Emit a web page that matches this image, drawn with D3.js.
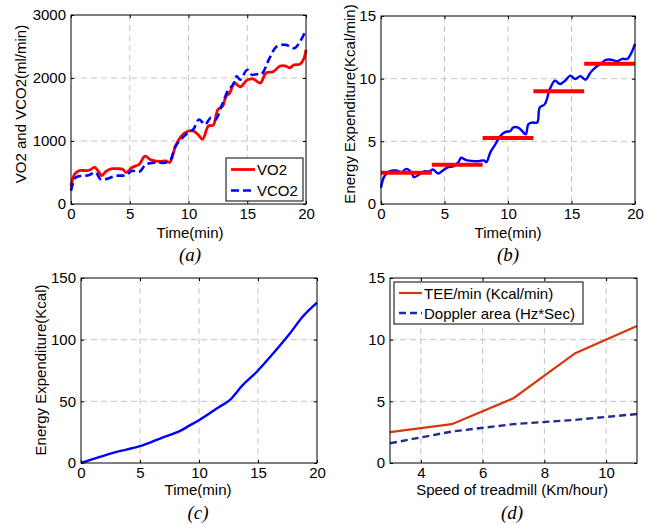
<!DOCTYPE html>
<html><head><meta charset="utf-8">
<script src="https://cdn.jsdelivr.net/npm/d3@7"></script>
<style>
body{margin:0;background:#fff}
svg{display:block}
text{font-family:"Liberation Sans",Arial,Helvetica,sans-serif;fill:#000}
.cap{font-family:"Liberation Serif","Times New Roman",serif;font-style:italic}
</style>
</head><body>
<svg id="fig" width="656" height="525"></svg>
<script>
// (a) oxygen uptake and CO2 output during the treadmill test
const vo2Time = [0,0.3,0.7,1.25,1.6,2.0,2.4,2.6,3.0,3.5,4.0,4.4,4.7,5.2,5.8,6.3,6.8,7.5,8.1,8.4,8.9,9.4,9.9,10.4,10.8,11.2,11.7,12.1,12.5,12.9,13.2,13.5,13.9,14.4,15.0,15.5,16.1,16.6,17.2,17.8,18.3,18.6,19.0,19.5,19.8,20];
const vo2 = [280,470,530,530,540,580,500,450,520,560,560,550,500,580,630,760,700,675,685,660,920,1080,1150,1160,1105,1030,1240,1250,1500,1550,1710,1760,1920,1860,1970,1985,1920,2080,2100,2190,2190,2160,2210,2220,2300,2450];
const vco2Time = [0,0.4,1.0,1.5,2.1,2.5,3.0,3.8,4.7,5.2,5.8,6.4,7.2,8.1,8.5,8.9,9.8,10.4,10.9,11.4,11.9,12.3,12.8,13.4,13.8,14.1,14.4,15.0,15.4,15.8,16.2,16.9,17.5,18.3,19.0,19.5,20];
const vco2 = [210,420,447,457,500,395,395,447,458,526,510,631,658,658,710,920,1105,1184,1342,1263,1370,1342,1550,1815,1894,2026,1974,2130,2050,2060,2060,2315,2500,2526,2473,2580,2763];

// (b) energy expenditure rate and per-stage mean
const eeTime = [0,0.26,0.66,1.2,1.6,2.0,2.4,2.6,3.0,3.4,3.8,4.1,4.5,4.9,5.3,5.7,6.1,6.3,6.7,7.3,7.7,8.1,8.3,8.6,9.0,9.4,9.8,10.2,10.4,10.8,11.1,11.4,11.6,11.9,12.3,12.5,12.9,13.3,13.7,14.1,14.5,14.9,15.3,15.7,16.1,16.5,16.9,17.3,17.7,18.2,18.6,19.0,19.4,19.8,20];
const eeRate = [1.3,2.2,2.6,2.67,2.54,2.8,2.5,2.14,2.35,2.6,2.6,2.75,2.43,2.7,2.94,3.0,3.34,3.69,3.5,3.42,3.42,3.48,3.34,4.1,4.76,5.43,5.75,5.83,6.1,6.1,5.83,5.56,6.36,6.5,6.5,7.7,7.97,9.17,9.84,9.57,9.84,10.24,9.97,10.2,9.92,10.5,10.9,11.18,11.5,11.5,11.4,11.58,11.58,12.25,12.78];
const stageStart = [0,4,8,12,16];
const stageEnd = [4,8,12,16,20];
const stageMean = [2.5,3.13,5.27,9.0,11.2];

// (c) cumulative energy expenditure
const cumTime = [0,1.6,3.0,5.0,6.7,8.4,9.0,10.1,11.5,12.6,13.7,14.9,16.3,17.7,18.8,20];
const cumEE = [0,4.9,9,13.6,19.8,26,29.3,35.3,44.2,51,63.2,74,89,105,118.8,130];

// (d) TEE and Doppler area against treadmill speed
const speed = [3,5,7,9,11];
const teePerMin = [2.5,3.15,5.25,8.9,11.1];
const dopplerArea = [1.6,2.55,3.15,3.5,3.97];

// tick values
const ticksTime = [0,5,10,15,20];
const ticksVO2 = [0,1000,2000,3000];
const ticksRate = [0,5,10,15];
const ticksCum = [0,50,100,150];
const ticksSpeed = [4,6,8,10];

const svg = d3.select("#fig");

function panel(box, xDom, yDom, xt, yt) {
  const g = svg.append("g");
  const x = d3.scaleLinear().domain(xDom).range([box.l, box.r]);
  const y = d3.scaleLinear().domain(yDom).range([box.b, box.t]);
  // dashed grid at interior ticks
  const gx = xt.filter(v => x(v) > box.l + 1 && x(v) < box.r - 1);
  const gy = yt.filter(v => y(v) < box.b - 1 && y(v) > box.t + 1);
  g.append("g").selectAll("line").data(gx).join("line")
    .attr("x1", d => x(d)).attr("x2", d => x(d)).attr("y1", box.t).attr("y2", box.b)
    .attr("stroke", "#c4c4c4").attr("stroke-dasharray", "6,4").attr("stroke-width", 1);
  g.append("g").selectAll("line").data(gy).join("line")
    .attr("y1", d => y(d)).attr("y2", d => y(d)).attr("x1", box.l).attr("x2", box.r)
    .attr("stroke", "#c4c4c4").attr("stroke-dasharray", "6,4").attr("stroke-width", 1);
  // axes with inward ticks on all four sides
  const ax = [
    [d3.axisBottom(x).tickValues(xt).tickFormat(d3.format("d")), box.b, "x"],
    [d3.axisTop(x).tickValues(xt).tickFormat(""), box.t, "x"],
    [d3.axisLeft(y).tickValues(yt).tickFormat(d3.format("d")), box.l, "y"],
    [d3.axisRight(y).tickValues(yt).tickFormat(""), box.r, "y"]
  ];
  ax.forEach(([a, pos, dir]) => {
    a.tickSizeInner(-3).tickSizeOuter(0).tickPadding(dir === "x" ? 4 : 5);
    const ag = g.append("g")
      .attr("transform", dir === "x" ? `translate(0,${pos})` : `translate(${pos},0)`)
      .call(a);
    ag.select(".domain").remove();
    ag.selectAll("line").attr("stroke", "#000");
    ag.selectAll("text").attr("font-size", 15).attr("fill", "#000");
  });
  const layer = g.append("g");
  g.append("rect").attr("x", box.l).attr("y", box.t)
    .attr("width", box.r - box.l).attr("height", box.b - box.t)
    .attr("fill", "none").attr("stroke", "#000").attr("stroke-width", 1);
  return {g, layer, x, y};
}

function label(txt, px, py, rot, cls, size) {
  const t = svg.append("text").attr("text-anchor", "middle")
    .attr("font-size", size || 15).text(txt);
  if (cls) t.attr("class", cls);
  if (rot) t.attr("transform", `translate(${px},${py}) rotate(-90)`);
  else t.attr("x", px).attr("y", py);
}

const smooth = d3.curveCatmullRom.alpha(0.5);

// ---- (a)
const A = panel({l:71, t:15, r:306, b:204}, [0,20], [0,3000], ticksTime, ticksVO2);
A.layer.append("path").datum(d3.zip(vo2Time, vo2))
  .attr("d", d3.line().x(d => A.x(d[0])).y(d => A.y(d[1])).curve(smooth))
  .attr("fill", "none").attr("stroke", "#ff0000").attr("stroke-width", 2.8);
A.layer.append("path").datum(d3.zip(vco2Time, vco2))
  .attr("d", d3.line().x(d => A.x(d[0])).y(d => A.y(d[1])).curve(smooth))
  .attr("fill", "none").attr("stroke", "#0000ff").attr("stroke-width", 2.6)
  .attr("stroke-dasharray", "8,4");
// legend
const legA = svg.append("g");
legA.append("rect").attr("x", 226).attr("y", 158).attr("width", 77).attr("height", 43)
  .attr("fill", "#fff").attr("stroke", "#000");
legA.append("line").attr("x1", 231).attr("x2", 255).attr("y1", 169.5).attr("y2", 169.5)
  .attr("stroke", "#ff0000").attr("stroke-width", 2.8);
legA.append("line").attr("x1", 231).attr("x2", 255).attr("y1", 190.5).attr("y2", 190.5)
  .attr("stroke", "#0000ff").attr("stroke-width", 2.6).attr("stroke-dasharray", "8,4");
legA.append("text").attr("x", 257).attr("y", 175).attr("font-size", 15).text("VO2");
legA.append("text").attr("x", 257).attr("y", 196).attr("font-size", 15).text("VCO2");
label("VO2 and VCO2(ml/min)", 26, 104, true);
label("Time(min)", 190, 238);
label("(a)", 190, 261, false, "cap", 19);

// ---- (b)
const B = panel({l:381, t:16, r:635, b:204}, [0,20], [0,15], ticksTime, ticksRate);
B.layer.append("path").datum(d3.zip(eeTime, eeRate))
  .attr("d", d3.line().x(d => B.x(d[0])).y(d => B.y(d[1])).curve(smooth))
  .attr("fill", "none").attr("stroke", "#0000ff").attr("stroke-width", 2.4);
B.layer.append("g").selectAll("line").data(d3.range(stageMean.length)).join("line")
  .attr("x1", i => B.x(stageStart[i])).attr("x2", i => B.x(stageEnd[i]))
  .attr("y1", i => B.y(stageMean[i])).attr("y2", i => B.y(stageMean[i]))
  .attr("stroke", "#ff0000").attr("stroke-width", 4);
label("Energy Expenditure(Kcal/min)", 355, 104, true);
label("Time(min)", 508, 238);
label("(b)", 508, 261, false, "cap", 19);

// ---- (c)
const C = panel({l:81, t:278, r:317, b:463}, [0,20], [0,150], ticksTime, ticksCum);
C.layer.append("path").datum(d3.zip(cumTime, cumEE))
  .attr("d", d3.line().x(d => C.x(d[0])).y(d => C.y(d[1])).curve(smooth))
  .attr("fill", "none").attr("stroke", "#0000ff").attr("stroke-width", 2.4);
label("Energy Expenditure(Kcal)", 46, 370, true);
label("Time(min)", 198, 495);
label("(c)", 198, 519, false, "cap", 19);

// ---- (d)
const D = panel({l:390, t:278, r:637, b:463}, [3,11], [0,15], ticksSpeed, ticksRate);
D.layer.append("path").datum(d3.zip(speed, teePerMin))
  .attr("d", d3.line().x(d => D.x(d[0])).y(d => D.y(d[1])))
  .attr("fill", "none").attr("stroke", "#d9360f").attr("stroke-width", 2.2);
D.layer.append("path").datum(d3.zip(speed, dopplerArea))
  .attr("d", d3.line().x(d => D.x(d[0])).y(d => D.y(d[1])))
  .attr("fill", "none").attr("stroke", "#1f2c96").attr("stroke-width", 2.4)
  .attr("stroke-dasharray", "7,4");
const legD = svg.append("g");
legD.append("rect").attr("x", 394).attr("y", 282).attr("width", 189).attr("height", 42)
  .attr("fill", "#fff").attr("stroke", "#000");
legD.append("line").attr("x1", 399).attr("x2", 422).attr("y1", 293).attr("y2", 293)
  .attr("stroke", "#d9360f").attr("stroke-width", 2.2);
legD.append("line").attr("x1", 399).attr("x2", 422).attr("y1", 313).attr("y2", 313)
  .attr("stroke", "#1f2c96").attr("stroke-width", 2.4).attr("stroke-dasharray", "7,4");
legD.append("text").attr("x", 424).attr("y", 298.5).attr("font-size", 15).text("TEE/min (Kcal/min)");
legD.append("text").attr("x", 424).attr("y", 318.5).attr("font-size", 15).text("Doppler area (Hz*Sec)");
label("Speed of treadmill (Km/hour)", 512, 495);
label("(d)", 512, 519, false, "cap", 19);
</script>
</body></html>
